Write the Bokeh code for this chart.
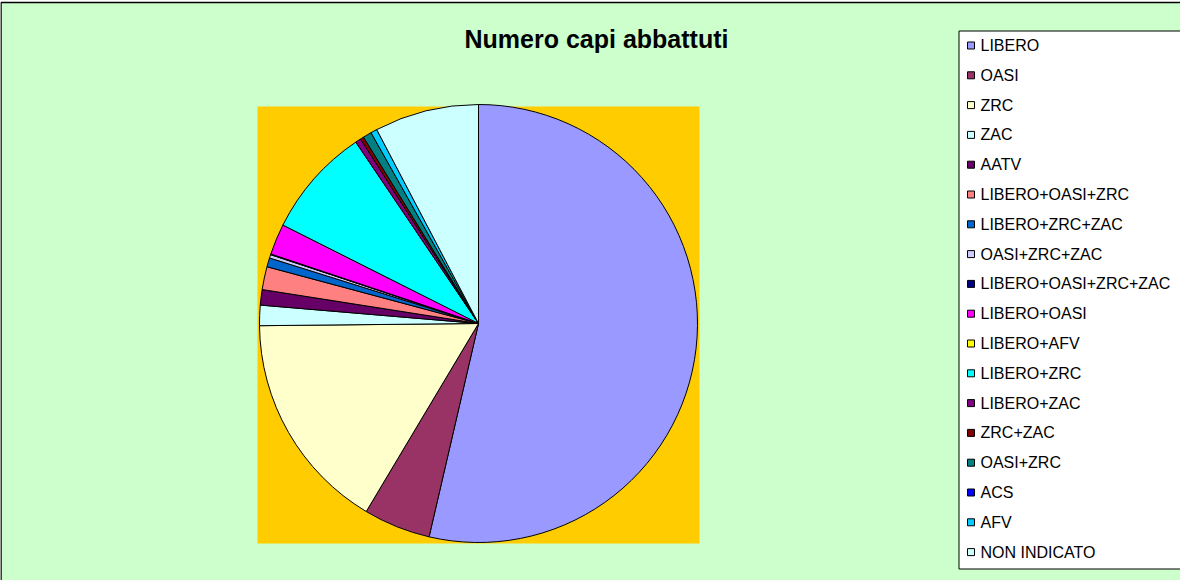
import math
from bokeh.plotting import figure
from bokeh.models import Range1d, ColumnDataSource
from bokeh.core.properties import value
from bokeh.embed import file_html
from bokeh.resources import INLINE

# ---- data ----
categories = ["LIBERO", "OASI", "ZRC", "ZAC", "AATV", "LIBERO+OASI+ZRC",
              "LIBERO+ZRC+ZAC", "OASI+ZRC+ZAC", "LIBERO+OASI+ZRC+ZAC",
              "LIBERO+OASI", "LIBERO+AFV", "LIBERO+ZRC", "LIBERO+ZAC",
              "ZRC+ZAC", "OASI+ZRC", "ACS", "AFV", "NON INDICATO"]
values = [1931, 178, 586, 54, 41, 61, 24, 9, 2, 82, 0, 292, 15, 9, 23, 0, 17, 277]
colors = ["#9999FF", "#993366", "#FFFFCC", "#CCFFFF", "#660066", "#FF8080",
          "#0066CC", "#CCCCFF", "#000080", "#FF00FF", "#FFFF00", "#00FFFF",
          "#800080", "#800000", "#008080", "#0000FF", "#00CCFF", "#CCFFFF"]
title_text = "Numero capi abbattuti"

# ---- layout (pixel-like data space) ----
W, H = 1180, 580
FONT = "Liberation Sans"
cx, cy, r = 478, 257, 219

p = figure(width=W, height=H, x_range=Range1d(0, W), y_range=Range1d(0, H),
           x_axis_type=None, y_axis_type=None, toolbar_location=None,
           output_backend="svg", min_border=0)
p.grid.visible = False
p.outline_line_color = None
p.background_fill_color = "white"
p.border_fill_color = "white"

# chart area background with border
p.quad(left=[0.5], right=[1190], bottom=[-10], top=[578],
       fill_color="#CCFFCC", line_color="black", line_width=1.5)
# plot area
p.quad(left=[257], right=[699], bottom=[37], top=[474],
       fill_color="#FFCC00", line_color=None)

# pie wedges
total = sum(values)
starts, ends, cols = [], [], []
cum = 0
for v, c in zip(values, colors):
    a0 = math.pi / 2 - 2 * math.pi * cum / total
    cum += v
    a1 = math.pi / 2 - 2 * math.pi * cum / total
    if v > 0:
        starts.append(a0)
        ends.append(a1)
        cols.append(c)
src = ColumnDataSource(dict(x=[cx] * len(starts), y=[cy] * len(starts),
                            start=starts, end=ends, color=cols))
p.wedge(x="x", y="y", radius=r, start_angle="start", end_angle="end",
        direction="clock", fill_color="color", line_color="black",
        line_width=1, source=src)

# title
p.text(x=[596], y=[542], text=[title_text], text_font=value(FONT),
       text_font_style="bold", text_font_size="25px", text_color="black",
       text_align="center", text_baseline="middle")

# legend box
p.quad(left=[958.5], right=[1195], bottom=[11.5], top=[549.5],
       fill_color="white", line_color="black", line_width=1)
n = len(categories)
ly = [535 - i * 29.8 for i in range(n)]
p.rect(x=[970.5] * n, y=ly, width=7, height=7, fill_color=colors,
       line_color="black", line_width=1)
p.text(x=[980] * n, y=ly, text=categories, text_font=value(FONT),
       text_font_size="16px", text_color="black",
       text_align="left", text_baseline="middle")

open("out.html", "w").write(file_html(p, INLINE))
